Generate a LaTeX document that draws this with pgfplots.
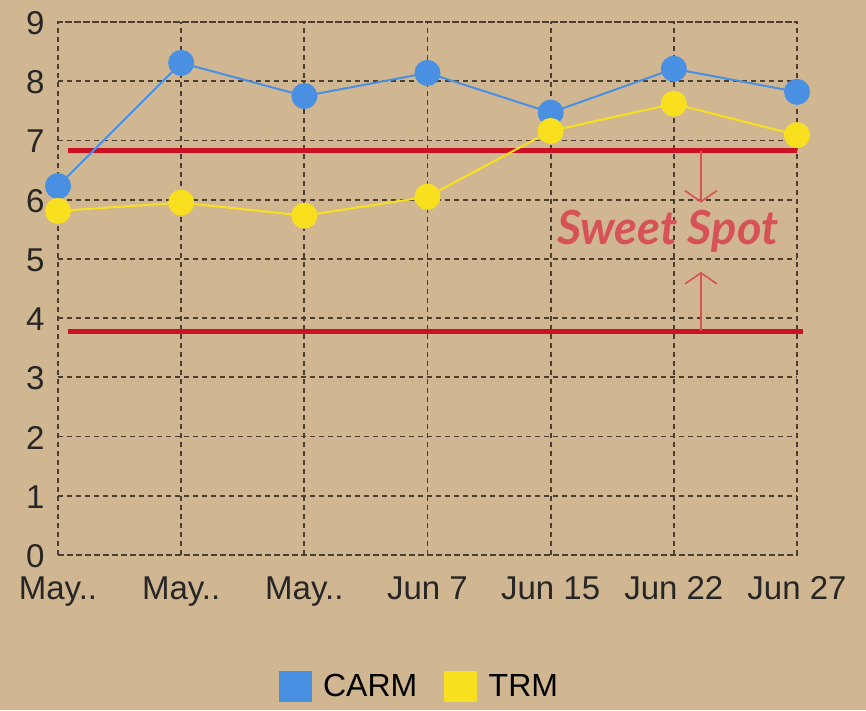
\documentclass[border=0pt]{standalone}
\usepackage{pgfplots}
\pgfplotsset{compat=1.18}
\usepackage{fontspec}
\setmainfont{Liberation Sans}
\newfontfamily\lato{Lato}
\usetikzlibrary{arrows.meta}
\definecolor{bg}{RGB}{208,183,146}
\definecolor{gridc}{RGB}{75,63,50}
\definecolor{carm}{RGB}{74,144,226}
\definecolor{trm}{RGB}{248,224,30}
\definecolor{redl}{RGB}{204,18,34}
\definecolor{redt}{RGB}{214,82,86}
\begin{document}
\begin{tikzpicture}
\fill[bg] (0,0) rectangle (866pt,710pt);
\useasboundingbox (0,0) rectangle (866pt,710pt);
\begin{axis}[
  at={(58pt,155pt)}, anchor=south west,
  width=739pt, height=533pt, scale only axis,
  xmin=0, xmax=6, ymin=0, ymax=9,
  xtick={0,1,2,3,4,5,6},
  xticklabels={May..,May..,May..,Jun 7,Jun 15,Jun 22,Jun 27},
  ytick={0,1,...,9},
  major tick length=0pt,
  tick label style={font=\fontsize{33}{33}\selectfont, text=black!85},
  /pgf/number format/assume math mode=true,
  xticklabel style={yshift=-18pt},
  yticklabel style={xshift=-10pt, yshift=-1pt},
  grid=major,
  grid style={dash pattern=on 5pt off 4pt, gridc, line width=1.8pt},
  axis line style={dash pattern=on 5pt off 4pt, gridc, line width=1.8pt},
  clip=false,
  legend style={at={(0.489,-0.246)}, anchor=center, draw=none, fill=none,
    font=\fontsize{32}{32}\selectfont, legend columns=2,
    /tikz/every odd column/.style={column sep=10pt},
    /tikz/every even column/.style={column sep=25pt}},
]
% sweet spot bounds
\addplot[redl, line width=5pt, forget plot] coordinates {(0.08,6.83) (6.0,6.83)};
\addplot[redl, line width=5pt, forget plot] coordinates {(0.08,3.78) (6.05,3.78)};
\addplot[redt, line width=1.6pt, -{Straight Barb[length=11pt,width=32pt,line width=1.6pt]}, forget plot] coordinates {(5.22,6.83) (5.22,5.95)};
\addplot[redt, line width=1.6pt, -{Straight Barb[length=11pt,width=32pt,line width=1.6pt]}, forget plot] coordinates {(5.22,3.78) (5.22,4.78)};
\node[text=redt, font=\fontsize{47}{47}\selectfont\lato\bfseries\itshape] at (axis cs:4.95,5.47) {Sweet Spot};
% series
\addplot[carm, line width=2pt, mark=*, mark size=12pt, mark options={draw=none, fill=carm}, forget plot]
  coordinates {(0,6.23) (1,8.31) (2,7.75) (3,8.14) (4,7.47) (5,8.21) (6,7.82)};
\addplot[trm, line width=2pt, mark=*, mark size=12pt, mark options={draw=none, fill=trm}, forget plot]
  coordinates {(0,5.81) (1,5.95) (2,5.73) (3,6.05) (4,7.16) (5,7.62) (6,7.09)};
\addlegendimage{legend image code/.code={\fill[carm] (0pt,-15pt) rectangle (32pt,15pt);}}
\addlegendentry{CARM}
\addlegendimage{legend image code/.code={\fill[trm] (0pt,-15pt) rectangle (32pt,15pt);}}
\addlegendentry{TRM}
\end{axis}
\end{tikzpicture}
\end{document}
